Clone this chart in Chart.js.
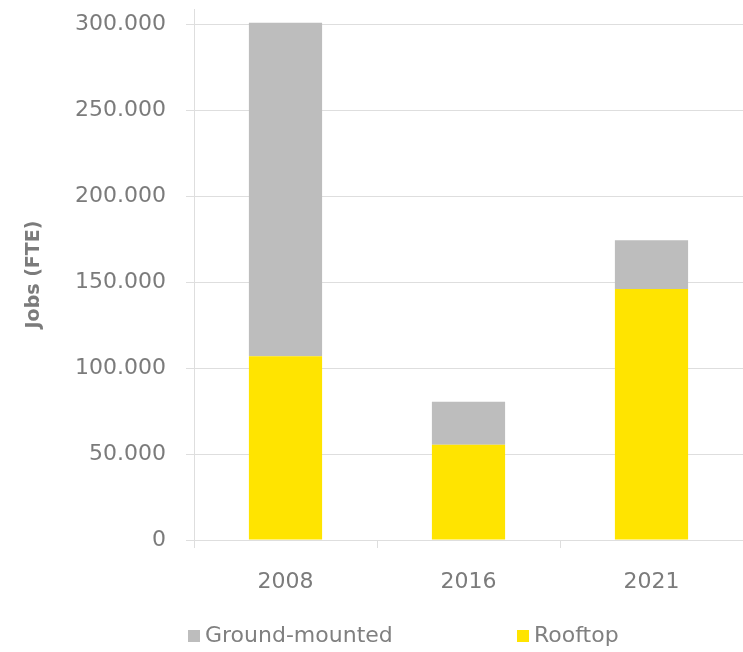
<!DOCTYPE html>
<html>
<head>
<meta charset="utf-8">
<script src="https://cdn.jsdelivr.net/npm/chart.js@4"></script>
<style>
  html, body { margin: 0; padding: 0; background: #ffffff; }
  #wrap { width: 743px; height: 652px; position: relative; }
</style>
</head>
<body>
<div id="wrap"><canvas id="c"></canvas></div>
<script>
const categories = ['2008', '2016', '2021'];
const rooftopJobs = [107000, 55500, 146000];
const groundMountedJobs = [194000, 25000, 28500];
const seriesNames = ['Rooftop', 'Ground-mounted'];
const yTickValues = [0, 50000, 100000, 150000, 200000, 250000, 300000];
const yAxisTitle = 'Jobs (FTE)';

const FONT = "'DejaVu Sans', sans-serif";
const TEXT = '#7b7b7b';
const GRID = '#dedede';

function fmt(v) {
  return String(Math.round(v)).replace(/\B(?=(\d{3})+(?!\d))/g, '.');
}

const legendPlugin = {
  id: 'customLegend',
  afterDraw(chart) {
    const ctx = chart.ctx;
    const ds = chart.data.datasets;
    const items = [ds[1], ds[0]];
    const xs = [188, 517];
    const y = 636;
    ctx.save();
    ctx.font = '22px ' + FONT;
    ctx.textBaseline = 'middle';
    ctx.textAlign = 'left';
    items.forEach((d, i) => {
      ctx.fillStyle = d.backgroundColor;
      ctx.fillRect(xs[i], y - 6, 12, 12);
      ctx.fillStyle = '#808080';
      ctx.fillText(d.label, xs[i] + 17, y);
    });
    ctx.restore();
  }
};

new Chart(document.getElementById('c'), {
  type: 'bar',
  data: {
    labels: categories,
    datasets: [
      { label: seriesNames[0], data: rooftopJobs, backgroundColor: '#FFE400', borderWidth: 0,
        barPercentage: 0.4, categoryPercentage: 1.0 },
      { label: seriesNames[1], data: groundMountedJobs, backgroundColor: '#BDBDBD', borderWidth: 0,
        barPercentage: 0.4, categoryPercentage: 1.0 }
    ]
  },
  options: {
    responsive: true,
    maintainAspectRatio: false,
    devicePixelRatio: 1,
    animation: false,
    layout: { padding: { top: 9, right: 0, bottom: 62, left: 0 } },
    plugins: {
      legend: { display: false },
      tooltip: { enabled: false }
    },
    scales: {
      x: {
        stacked: true,
        offset: true,
        grid: { display: true, drawOnChartArea: false, drawTicks: true, tickLength: 8, color: GRID, offset: true },
        border: { display: true, color: GRID, width: 1 },
        ticks: { color: TEXT, font: { family: FONT, size: 22 }, padding: 21 },
        afterFit(scale) { scale.height = 50; scale.paddingLeft = 0; scale.paddingRight = 0; }
      },
      y: {
        stacked: true,
        min: 0,
        max: 309000,
        afterBuildTicks(scale) { scale.ticks = yTickValues.map(v => ({ value: v })); },
        grid: { color: GRID, tickLength: 8, drawTicks: true },
        border: { display: true, color: GRID, width: 1 },
        ticks: { color: TEXT, font: { family: FONT, size: 22 }, padding: 20,
                 callback: (v) => fmt(v) },
        title: { display: true, text: yAxisTitle, color: TEXT,
                 font: { family: FONT, size: 19, weight: 'bold' }, padding: { top: 23, bottom: 0 } },
        afterFit(scale) { scale.width = 194; scale.paddingTop = 0; scale.paddingBottom = 0; }
      }
    }
  },
  plugins: [legendPlugin]
});
</script>
</body>
</html>
